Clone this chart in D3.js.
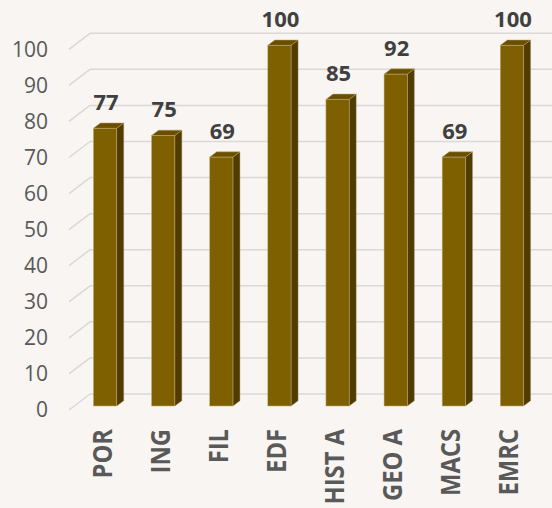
<!DOCTYPE html>
<html>
<head>
    <meta charset="utf-8">
    <title>Notas por disciplina</title>
    <script src="https://d3js.org/d3.v7.min.js"></script>
    <style>
        body { margin: 0; background: #f8f5f2; }
        svg { display: block; }
        text { font-family: "Open Sans", "Noto Sans", sans-serif; fill: #595959; }
    </style>
</head>
<body>
    <svg class="barChart" width="552" height="508"></svg>

    <script>
// dados do gráfico
const disciplinas = ['POR', 'ING', 'FIL', 'EDF', 'HIST A', 'GEO A', 'MACS', 'EMRC'];
const notas = [77, 75, 69, 100, 85, 92, 69, 100];
const ticksY = [0, 10, 20, 30, 40, 50, 60, 70, 80, 90, 100];

function plotarGrafico() {
    const svg = d3.select('.barChart');
    const width = +svg.attr('width');

    // profundidade 3D
    const prof = { dx: 21, dy: 16 };     // parede do fundo
    const barProf = { dx: 7, dy: 5.3 };  // lado das barras

    const x = d3.scaleBand()
        .domain(disciplinas)
        .range([76, 541])
        .paddingInner(0.6)
        .paddingOuter(0.3);

    const y = d3.scaleLinear()
        .domain([0, 100])
        .range([406, 45.3]);

    const frente = v => y(v) + 4;
    const fundo = v => y(v) - 12;

    // grelha (parede do fundo + diagonais)
    const grid = svg.append('g').attr('class', 'grid')
        .attr('stroke', '#d9d9d9').attr('stroke-width', 1.5).attr('fill', 'none');

    grid.selectAll('.gl-back')
        .data(ticksY)
        .enter().append('line')
        .attr('x1', 69 + prof.dx).attr('x2', width)
        .attr('y1', d => fundo(d)).attr('y2', d => fundo(d));

    grid.selectAll('.gl-diag')
        .data(ticksY)
        .enter().append('line')
        .attr('x1', 69).attr('x2', 69 + prof.dx)
        .attr('y1', d => frente(d)).attr('y2', d => fundo(d));

    // eixo y (só os rótulos)
    svg.append('g').selectAll('text')
        .data(ticksY)
        .enter().append('text')
        .attr('x', 48)
        .attr('y', d => frente(d))
        .attr('dy', '0.35em')
        .attr('text-anchor', 'end')
        .style('font-size', '21px')
        .text(d => d);

    const dados = disciplinas.map((d, i) => ({ label: d, valor: notas[i] }));
    const bw = x.bandwidth();

    const barras = svg.append('g').selectAll('.bar')
        .data(dados)
        .enter().append('g')
        .attr('class', 'bar');

    // lado
    barras.append('path')
        .attr('fill', '#503c00')
        .attr('stroke', '#a08c55').attr('stroke-width', 0.4)
        .attr('d', d => {
            const x0 = x(d.label) + bw, yt = y(d.valor), yb = y(0);
            return `M${x0},${yt}L${x0 + barProf.dx},${yt - barProf.dy}L${x0 + barProf.dx},${yb - barProf.dy}L${x0},${yb}Z`;
        });

    // topo
    barras.append('path')
        .attr('fill', '#6a4f00')
        .attr('stroke', '#b9a46a').attr('stroke-width', 0.5)
        .attr('d', d => {
            const x0 = x(d.label), yt = y(d.valor);
            return `M${x0},${yt}L${x0 + bw},${yt}L${x0 + bw + barProf.dx},${yt - barProf.dy}L${x0 + barProf.dx},${yt - barProf.dy}Z`;
        });

    // frente
    barras.append('rect')
        .attr('x', d => x(d.label))
        .attr('y', d => y(d.valor))
        .attr('width', bw)
        .attr('height', d => y(0) - y(d.valor))
        .attr('fill', '#7f6000')
        .attr('stroke', '#c2ae74').attr('stroke-width', 0.5);

    // rótulos de valor
    svg.append('g').selectAll('text')
        .data(dados)
        .enter().append('text')
        .attr('x', d => x(d.label) + bw / 2 + 1)
        .attr('y', d => y(d.valor) - 18.5)
        .attr('text-anchor', 'middle')
        .style('font-size', '22px')
        .style('font-weight', 'bold')
        .style('fill', '#404040')
        .text(d => d.valor);

    // rótulos das categorias (rodados)
    svg.append('g').selectAll('text')
        .data(dados)
        .enter().append('text')
        .attr('transform', d => `translate(${x(d.label) + bw / 2 - 3},429) rotate(-90) scale(0.88,1)`)
        .attr('dy', '0.35em')
        .attr('text-anchor', 'end')
        .style('font-size', '27px')
        .style('font-weight', 'bold')
        .text(d => d.label);
}

plotarGrafico();
    </script>
</body>
</html>
